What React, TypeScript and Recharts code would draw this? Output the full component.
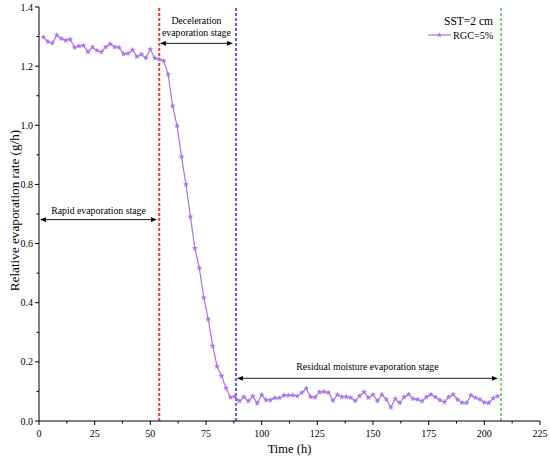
import React from 'react';
import { LineChart, Line, XAxis, YAxis, ReferenceLine, Legend } from 'recharts';

// ---------- data ----------
const times = [
  2, 4, 6, 8, 10, 12, 14, 16, 18, 20, 22, 24, 26, 28, 30, 32, 34, 36, 38, 40,
  42, 44, 46, 48, 50, 52, 54, 56, 58, 60, 62, 64, 66, 68, 70, 72, 74, 76, 78, 80,
  82, 84, 86, 88, 90, 92, 94, 96, 98, 100, 102, 104, 106, 108, 110, 112, 114, 116, 118, 120,
  122, 124, 126, 128, 130, 132, 134, 136, 138, 140, 142, 144, 146, 148, 150, 152, 154, 156, 158, 160,
  162, 164, 166, 168, 170, 172, 174, 176, 178, 180, 182, 184, 186, 188, 190, 192, 194, 196, 198, 200,
  202, 204, 206,
];

const rates = [
  1.298, 1.283, 1.278, 1.305, 1.293, 1.287, 1.291, 1.263, 1.268, 1.27, 1.248, 1.264, 1.253, 1.248, 1.265, 1.275, 1.265, 1.263, 1.241, 1.243,
  1.255, 1.232, 1.24, 1.228, 1.257, 1.227, 1.223, 1.218, 1.172, 1.066, 0.998, 0.894, 0.8, 0.691, 0.584, 0.518, 0.417, 0.344, 0.254, 0.184,
  0.152, 0.111, 0.08, 0.083, 0.067, 0.081, 0.067, 0.084, 0.06, 0.088, 0.071, 0.071, 0.078, 0.078, 0.087, 0.087, 0.087, 0.084, 0.096, 0.11,
  0.082, 0.08, 0.098, 0.099, 0.096, 0.069, 0.089, 0.082, 0.082, 0.079, 0.068, 0.085, 0.098, 0.079, 0.089, 0.068, 0.089, 0.073, 0.046, 0.075,
  0.061, 0.081, 0.09, 0.075, 0.073, 0.067, 0.081, 0.09, 0.081, 0.071, 0.064, 0.081, 0.09, 0.072, 0.062, 0.061, 0.087, 0.079, 0.073, 0.063,
  0.061, 0.077, 0.084,
];

const xTicks = [0, 12.5, 25, 37.5, 50, 62.5, 75, 87.5, 100, 112.5, 125, 137.5, 150, 162.5, 175, 187.5, 200, 212.5, 225];
const yTicks = [0, 0.1, 0.2, 0.3, 0.4, 0.5, 0.6, 0.7, 0.8, 0.9, 1.0, 1.1, 1.2, 1.3, 1.4];

const stageBoundaries = [54, 88.5, 207.5];

// stage arrows: [xStart, xEnd, y]
const rapidArrow = [0.45, 53.0, 0.681];
const decelArrow = [54.3, 87.1, 1.277];
const residualArrow = [88.9, 206.1, 0.1444];

const rapidLabel = ['Rapid evaporation stage'];
const decelLabel = ['Deceleration', 'evaporation stage'];
const residualLabel = ['Residual moisture evaporation stage'];

const legendTitle = 'SST=2 cm';
const seriesName = 'RGC=5%';

const data = times.map((t, i) => ({ t, r: rates[i] }));

// ---------- styles ----------
const FONT = '"Liberation Serif", "Times New Roman", serif';
const LINE_COLOR = '#a974e6';
const boundaryStyles = [
  { stroke: '#ff3333', strokeWidth: 2, dash: '3 2' },
  { stroke: '#1c1ce0', strokeWidth: 1.4, dash: '3 2' },
  { stroke: '#55b84a', strokeWidth: 1.4, dash: '3 2' },
];

const starPath = (cx: number, cy: number, R = 2.7, r = 1.15) => {
  let d = '';
  for (let k = 0; k < 10; k++) {
    const ang = -Math.PI / 2 + (k * Math.PI) / 5;
    const rad = k % 2 === 0 ? R : r;
    const px = cx + rad * Math.cos(ang);
    const py = cy + rad * Math.sin(ang);
    d += (k === 0 ? 'M' : 'L') + px.toFixed(2) + ',' + py.toFixed(2);
  }
  return d + 'Z';
};

const renderDot = (props: any) => {
  const { cx, cy, index } = props;
  if (cx == null || cy == null) return <g key={`d-${index}`} />;
  return <path key={`d-${index}`} d={starPath(cx, cy)} fill={LINE_COLOR} stroke={LINE_COLOR} strokeWidth={0.3} />;
};

const XTick = (props: any) => {
  const { x, y, payload } = props;
  const v = payload.value as number;
  const major = Math.abs(v % 25) < 1e-6;
  return (
    <g>
      <line x1={x} y1={y} x2={x} y2={y + (major ? 4 : 2.5)} stroke="#000" strokeWidth={1} />
      {major && (
        <text x={x} y={y + 16} textAnchor="middle" fontSize={10} fontFamily={FONT} fill="#000">
          {v}
        </text>
      )}
    </g>
  );
};

const YTick = (props: any) => {
  const { x, y, payload } = props;
  const v = payload.value as number;
  const major = Math.round(v * 10) % 2 === 0;
  return (
    <g>
      <line x1={x} y1={y} x2={x - (major ? 4 : 2.5)} y2={y} stroke="#000" strokeWidth={1} />
      {major && (
        <text x={x - 6} y={y + 3.5} textAnchor="end" fontSize={10} fontFamily={FONT} fill="#000">
          {v.toFixed(1)}
        </text>
      )}
    </g>
  );
};

const yLabelContent = (props: any) => {
  const vb = props.viewBox || { x: 0, y: 0, width: 0, height: 0 };
  const cx = 14.5;
  const cy = vb.y + vb.height / 2 - 3.5;
  return (
    <text
      x={cx}
      y={cy}
      transform={`rotate(-90 ${cx} ${cy})`}
      textAnchor="middle"
      dominantBaseline="central"
      fontSize={13.2}
      fontFamily={FONT}
      fill="#000"
    >
      Relative evaporation rate (g/h)
    </text>
  );
};

const xLabelContent = (props: any) => {
  const vb = props.viewBox || { x: 0, y: 0, width: 0, height: 0 };
  return (
    <text
      x={vb.x + vb.width / 2}
      y={vb.y + 31.5}
      textAnchor="middle"
      fontSize={12.5}
      fontFamily={FONT}
      fill="#000"
    >
      Time (h)
    </text>
  );
};

const makeArrowShape = (lines: string[], gap: number) => (p: any) => {
  const { x1, y1, x2, y2 } = p;
  const h = 6;
  const w = 2.4;
  const cx = (x1 + x2) / 2;
  return (
    <g>
      <line x1={x1 + h - 1} y1={y1} x2={x2 - h + 1} y2={y2} stroke="#000" strokeWidth={0.9} />
      <path d={`M${x1},${y1} L${x1 + h},${y1 - w} L${x1 + h},${y1 + w} Z`} fill="#000" />
      <path d={`M${x2},${y2} L${x2 - h},${y2 - w} L${x2 - h},${y2 + w} Z`} fill="#000" />
      {lines.map((s, i) => (
        <text
          key={i}
          x={cx}
          y={y1 - gap - (lines.length - 1 - i) * 12}
          textAnchor="middle"
          fontSize={9.8}
          fontFamily={FONT}
          fill="#000"
        >
          {s}
        </text>
      ))}
    </g>
  );
};

const LegendContent = () => (
  <svg width={80} height={36} style={{ overflow: 'visible', display: 'block' }}>
    <text x={73} y={17} textAnchor="end" fontSize={11.5} fontFamily={FONT} fill="#000">
      {legendTitle}
    </text>
    <line x1={8} y1={27} x2={31} y2={27} stroke={LINE_COLOR} strokeWidth={1.2} />
    <path d={starPath(19.5, 27)} fill={LINE_COLOR} />
    <text x={33} y={30.5} fontSize={10.2} fontFamily={FONT} fill="#000">
      {seriesName}
    </text>
  </svg>
);

const arrowSpecs = [
  { a: rapidArrow, lines: rapidLabel, gap: 6 },
  { a: decelArrow, lines: decelLabel, gap: 7 },
  { a: residualArrow, lines: residualLabel, gap: 8 },
];

export default function App() {
  return (
    <div style={{ position: 'absolute', left: 0, top: 0, width: 550, height: 459, background: '#fff' }}>
      <LineChart width={550} height={459} data={data} margin={{ top: 7, right: 10, bottom: 0, left: 0 }}>
        <XAxis
          dataKey="t"
          type="number"
          domain={[0, 225]}
          ticks={xTicks}
          interval={0}
          height={38}
          tickSize={0}
          tickMargin={0}
          tickLine={false}
          tick={<XTick />}
          axisLine={{ stroke: '#000', strokeWidth: 1 }}
          allowDataOverflow
          label={{ value: 'Time (h)', content: xLabelContent }}
        />
        <XAxis
          xAxisId="top"
          orientation="top"
          type="number"
          domain={[0, 225]}
          height={0}
          tick={false}
          tickLine={false}
          axisLine={{ stroke: '#000', strokeWidth: 1 }}
        />
        <YAxis
          type="number"
          domain={[0, 1.4]}
          ticks={yTicks}
          interval={0}
          width={39}
          tickSize={0}
          tickMargin={0}
          tickLine={false}
          tick={<YTick />}
          axisLine={{ stroke: '#000', strokeWidth: 1 }}
          allowDataOverflow
          label={{ value: 'Relative evaporation rate (g/h)', content: yLabelContent }}
        />
        <YAxis
          yAxisId="right"
          orientation="right"
          type="number"
          domain={[0, 1.4]}
          width={0}
          tick={false}
          tickLine={false}
          axisLine={{ stroke: '#000', strokeWidth: 1 }}
        />
        {stageBoundaries.map((x, i) => (
          <ReferenceLine
            key={`b-${i}`}
            x={x}
            stroke={boundaryStyles[i].stroke}
            strokeWidth={boundaryStyles[i].strokeWidth}
            strokeDasharray={boundaryStyles[i].dash}
          />
        ))}
        {arrowSpecs.map((s, i) => (
          <ReferenceLine
            key={`a-${i}`}
            segment={[
              { x: s.a[0], y: s.a[2] },
              { x: s.a[1], y: s.a[2] },
            ]}
            stroke="#000"
            ifOverflow="visible"
            shape={makeArrowShape(s.lines, s.gap)}
          />
        ))}
        <Line
          dataKey="r"
          name={seriesName}
          stroke={LINE_COLOR}
          strokeWidth={1.2}
          dot={renderDot}
          activeDot={false}
          isAnimationActive={false}
        />
        <Legend
          layout="vertical"
          align="center"
          verticalAlign="middle"
          wrapperStyle={{ position: 'absolute', left: 420, top: 8, width: 80, height: 36 }}
          content={<LegendContent />}
        />
      </LineChart>
    </div>
  );
}
